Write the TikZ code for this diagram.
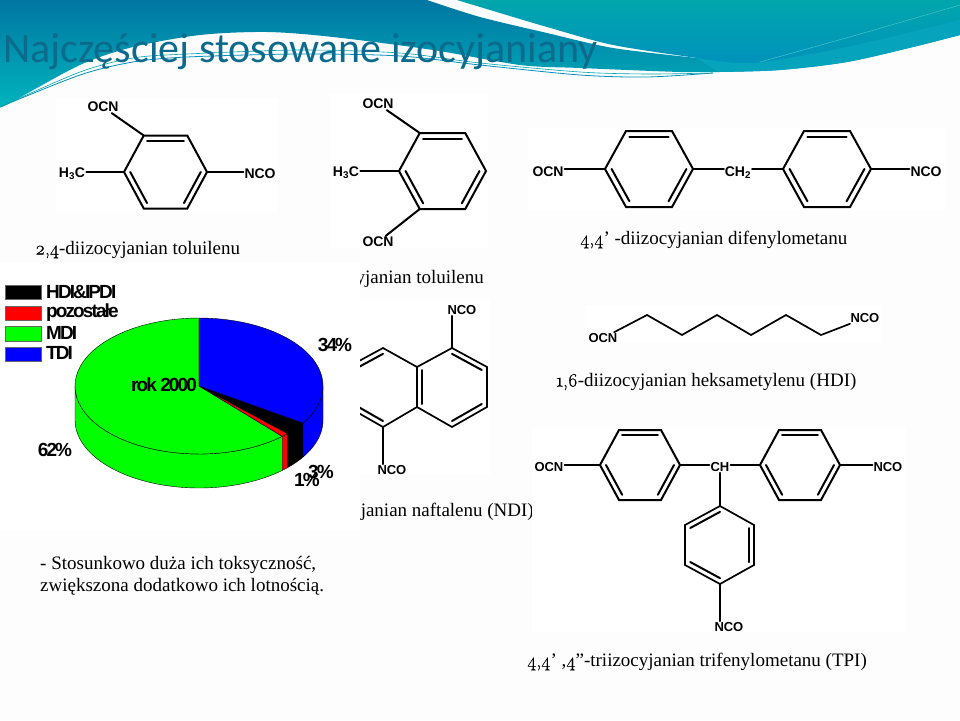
\documentclass[tikz,border=0pt]{standalone}
\usepackage{fontspec}
\usepackage{xcolor}
\usepackage{tikz}
\usetikzlibrary{calc}
\newfontfamily\titlefont{Carlito}
\newfontfamily\capfont{Liberation Serif}
\newfontfamily\digfont[Numbers=OldStyle,FakeBold=0.5]{Latin Modern Roman}
\newfontfamily\chartfont[LetterSpace=-10]{Liberation Sans}
\newfontfamily\atomfont[LetterSpace=-1]{Liberation Sans}
\newcommand{\dg}[1]{{\digfont #1}}
% flat-topped ring: name, centre x, centre y, half width, half height
\newcommand{\flatring}[5]{
	\coordinate (#1) at (#2,#3);
	\coordinate (#11) at ({#2-#4/2-1},{#3-#5});
	\coordinate (#12) at ({#2+#4/2+1},{#3-#5});
	\coordinate (#13) at ({#2+#4},#3);
	\coordinate (#14) at ({#2+#4/2+1},{#3+#5});
	\coordinate (#15) at ({#2-#4/2-1},{#3+#5});
	\coordinate (#16) at ({#2-#4},#3);
	\draw[bond] (#11) -- (#12) -- (#13) -- (#14) -- (#15) -- (#16) -- cycle;
	\dbl{#1}{#11}{#12}
	\dbl{#1}{#13}{#14}
	\dbl{#1}{#15}{#16}
}
% inner line of a double bond
\newcommand{\dbl}[3]{\draw[bond] ($(#1)!.85!(#2)$) -- ($(#1)!.85!(#3)$);}
\newcommand{\pietop}[3]{\filldraw[slice,fill=#3] (199,386) -- plot[domain=#1:#2] ({199+124*cos(\x)},{386-68*sin(\x)}) -- cycle;}
\newcommand{\pieside}[3]{\filldraw[slice,fill=#3] plot[domain=#1:#2] ({199+124*cos(\x)},{386-68*sin(\x)}) -- plot[domain=#2:#1] ({199+124*cos(\x)},{420-68*sin(\x)}) -- cycle;}
\definecolor{slidebg}{HTML}{FDFDFD}
\definecolor{titleblue}{HTML}{0C6A8C}
\definecolor{bandtop}{HTML}{0076A2}
\definecolor{bandlow}{HTML}{00B5BD}
\definecolor{waveteal}{HTML}{00A6AC}
\definecolor{waveblue}{HTML}{008FBE}
\definecolor{wavelow}{HTML}{06A4BC}
\tikzset{
	bond/.style={line width=2pt,line join=miter,line cap=round},
	thin bond/.style={bond,line width=1.7pt},
	atom/.style={font=\atomfont\bfseries\fontsize{14}{14}\selectfont,inner sep=1pt},
	small atom/.style={atom,font=\atomfont\bfseries\fontsize{13}{13}\selectfont},
	caption/.style={font=\capfont\fontsize{19}{22}\selectfont,inner sep=0pt,black},
	chartlabel/.style={font=\chartfont\bfseries\fontsize{19}{19}\selectfont,inner sep=0pt,black},
	slice/.style={draw=black,line width=0.4pt,samples=50,line join=round},
	swatch/.style={draw=black!60,line width=0.3pt},
	whitebox/.style={fill=white,draw=none},
}
\begin{document}
\begin{tikzpicture}[x=1pt,y=-1pt]
		\useasboundingbox (0,0) rectangle (960,720);
		\fill[slidebg] (0,0) rectangle (960,720);
		% header waves
		\shade[top color=bandtop,bottom color=bandlow] (0,0) -- (427,0)
			-- plot[smooth] coordinates {(427,0) (480,17) (547,33) (613,48) (697,58)}
			-- (720,72)
			-- plot[smooth] coordinates {(720,72) (680,72) (580,68) (520,65) (433,50) (333,37) (267,32) (200,35) (133,47) (80,65) (10,103) (0,107)}
			-- cycle;
		\shade[top color=waveteal,bottom color=waveblue] (457,0) -- (960,0) -- (960,35)
			-- plot[smooth] coordinates {(960,35) (913,47) (847,62) (780,70) (720,72)}
			-- (697,58)
			-- plot[smooth] coordinates {(697,58) (613,45) (547,27) (480,7) (457,0)}
			-- cycle;
		\fill[wavelow] plot[smooth] coordinates {(697,58) (753,63) (847,47) (960,20)} -- (960,35)
			-- plot[smooth] coordinates {(960,35) (913,47) (847,62) (780,70) (720,72)} -- cycle;
		\draw[waveteal!70!white,line width=0.5pt] plot[smooth] coordinates {(760,62) (860,34) (960,5)};
		\draw[waveblue,line width=0.8pt] plot[smooth] coordinates {(0,107) (80,75) (133,62) (187,57) (300,54) (400,56) (480,65) (580,75) (647,77) (713,73)};
		\draw[waveteal,line width=0.6pt] plot[smooth] coordinates {(0,107) (80,72) (133,58) (187,54) (300,50) (400,53) (480,63) (580,72) (647,74) (713,73)};
		\node[font=\titlefont\fontsize{42}{42}\selectfont,text=titleblue,anchor=west,inner sep=0pt] (title) at (3,52) {Najczęściej stosowane izocyjaniany};
		% captions
		\node[caption,anchor=west] (cap24) at (35,250) {\dg{2,4}-diizocyjanian toluilenu};
		\node[caption,anchor=east] (cap26) at (484,279) {yjanian toluilenu};
		\node[caption,anchor=west] (capmdi) at (580,240) {\dg{4,4}’ -diizocyjanian difenylometanu};
		\node[caption,anchor=west] (caphdi) at (556,382) {\dg{1,6}-diizocyjanian heksametylenu (HDI)};
		\node[caption,anchor=east] (capndi) at (534,512) {janian naftalenu (NDI)};
		\node[caption,anchor=west,align=left] (capnote) at (40,576) {- Stosunkowo duża ich toksyczność,\\zwiększona dodatkowo ich lotnością.};
		\node[caption,anchor=west] (captpi) at (527,662) {\dg{4,4}’ ,\dg{4}”-triizocyjanian trifenylometanu (TPI)};
		% white picture boxes
		\fill[whitebox] (56,98) rectangle (278,212);
		\fill[whitebox] (330,94) rectangle (488,248);
		\fill[whitebox] (528,128) rectangle (945,210);
		\fill[whitebox] (585,305) rectangle (882,343);
		\fill[whitebox] (360,300) rectangle (490,475);
		\fill[whitebox] (532,428) rectangle (906,632);
		% 2,4-TDI
		\flatring{ta}{165.5}{172}{41.5}{36.5}
		\node[atom] (taocn) at (103,107) {OCN};
		\node[atom] (tach) at (72,174) {H\textsubscript{3}C};
		\node[atom] (tanco) at (260,174) {NCO};
		\path[bond]
		(taocn) edge (ta1)
		(tach.east |- ta6) edge (ta6)
		(tanco.west |- ta3) edge (ta3);
		% 2,6-TDI
		\flatring{tb}{442.5}{171}{43.5}{38}
		\node[atom] (tbocn) at (378,104) {OCN};
		\node[atom] (tbch) at (346,173) {H\textsubscript{3}C};
		\node[atom] (tbocn') at (378,242) {OCN};
		\path[bond]
		(tbocn) edge (tb1)
		(tbch.east |- tb6) edge (tb6)
		(tbocn') edge (tb5);
		% MDI
		\flatring{ma}{649}{169}{44}{38}
		\flatring{mb}{827}{169}{44}{38}
		\node[atom] (mocn) at (548,172) {OCN};
		\node[atom] (mch) at (738,173) {CH\textsubscript{2}};
		\node[atom] (mnco) at (926,172) {NCO};
		\path[bond]
		(mocn.east |- ma6) edge (ma6)
		(mch.west |- ma3) edge (ma3)
		(mch.east |- mb6) edge (mb6)
		(mnco.west |- mb3) edge (mb3);
		% HDI
		\node[small atom] (hocn) at (603,338) {OCN};
		\node[small atom] (hnco) at (865,318) {NCO};
		\coordinate (h1) at (647,315);
		\coordinate (h2) at (682,335);
		\coordinate (h3) at (717,315);
		\coordinate (h4) at (751,335);
		\coordinate (h5) at (786,315);
		\coordinate (h6) at (821,335);
		\draw[thin bond] (hocn) -- (h1) -- (h2) -- (h3) -- (h4) -- (h5) -- (h6) -- (hnco);
		% NDI
		\coordinate (na) at (452,387);
		\coordinate (na1) at (452,348);
		\coordinate (na2) at (487,367);
		\coordinate (na3) at (487,407);
		\coordinate (na4) at (452,427);
		\coordinate (na5) at (417,407);
		\coordinate (na6) at (417,367);
		\coordinate (nb) at (383,387);
		\coordinate (nb1) at (383,348);
		\coordinate (nb2) at (348,367);
		\coordinate (nb3) at (348,407);
		\coordinate (nb4) at (383,427);
		\draw[thin bond] (na1) -- (na2) -- (na3) -- (na4) -- (na5) -- (na6) -- cycle;
		\draw[thin bond] (na6) -- (nb1) -- (nb2) (nb3) -- (nb4) -- (na5);
		\dbl{na}{na1}{na2}
		\dbl{na}{na3}{na4}
		\dbl{na}{na5}{na6}
		\dbl{nb}{nb1}{nb2}
		\dbl{nb}{nb3}{nb4}
		\node[small atom] (nnco) at (462,310) {NCO};
		\node[small atom] (nnco') at (392,470) {NCO};
		\path[thin bond]
		(nnco.south west -| na1) edge (na1)
		(nnco'.north west -| nb4) edge (nb4);
		% TPI
		\flatring{pa}{640}{465}{40}{35}
		\flatring{pb}{800}{465}{40}{35}
		\coordinate (pc) at (720,545);
		\coordinate (pc1) at (720,506);
		\coordinate (pc2) at (754,525);
		\coordinate (pc3) at (754,565);
		\coordinate (pc4) at (720,584);
		\coordinate (pc5) at (685,565);
		\coordinate (pc6) at (685,525);
		\draw[thin bond] (pc1) -- (pc2) -- (pc3) -- (pc4) -- (pc5) -- (pc6) -- cycle;
		\dbl{pc}{pc1}{pc6}
		\dbl{pc}{pc2}{pc3}
		\dbl{pc}{pc4}{pc5}
		\node[small atom] (pocn) at (549,467) {OCN};
		\node[small atom] (pch) at (720,467) {CH};
		\node[small atom] (pnco) at (888,467) {NCO};
		\node[small atom] (pnco') at (729,627) {NCO};
		\path[thin bond]
		(pocn.east |- pa6) edge (pa6)
		(pch.west |- pa3) edge (pa3)
		(pch.east |- pb6) edge (pb6)
		(pnco.west |- pb3) edge (pb3)
		(pch) edge (pc1)
		(pnco'.north west -| pc4) edge (pc4);
		% chart box, it cuts the captions and the ring behind it
		\fill[whitebox] (0,263) rectangle (360,530);
		\pieside{180}{312.2}{green}
		\pieside{312.2}{315.6}{red}
		\pieside{315.6}{327}{black}
		\pieside{327}{360}{blue}
		\pietop{90}{312.2}{green}
		\pietop{312.2}{315.6}{red}
		\pietop{315.6}{327}{black}
		\pietop{-33}{90}{blue}
		% legend
		\fill[swatch,fill=black] (5,285) rectangle (41,299);
		\fill[swatch,fill=red] (5,306) rectangle (41,320);
		\fill[swatch,fill=green] (5,326) rectangle (41,341);
		\fill[swatch,fill=blue] (5,347) rectangle (41,361);
		\node[chartlabel,anchor=west] (lhdi) at (46,292) {HDI\&IPDI};
		\node[chartlabel,anchor=west] (lrest) at (46,313) {pozostałe};
		\node[chartlabel,anchor=west] (lmdi) at (46,333) {MDI};
		\node[chartlabel,anchor=west] (ltdi) at (46,353) {TDI};
		\node[chartlabel] (year) at (164,385) {rok 2000};
		\node[chartlabel] (ptdi) at (335,345) {34\%};
		\node[chartlabel] (pmdi) at (55,450) {62\%};
		\node[chartlabel] (phdi) at (321,472) {3\%};
		\node[chartlabel] (prest) at (307,480) {1\%};
\end{tikzpicture}
\end{document}
